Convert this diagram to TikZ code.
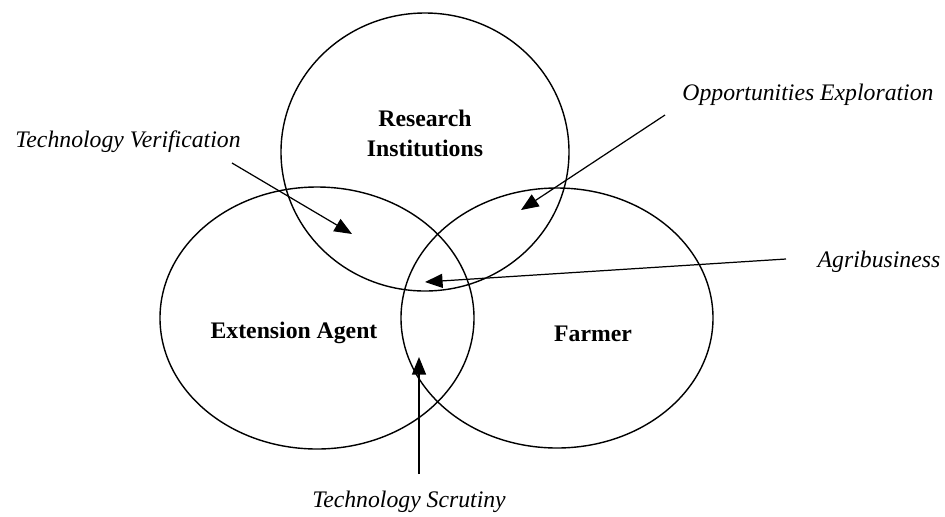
\documentclass[tikz,border=0pt]{standalone}
\usepackage{fontspec}
\setmainfont{Liberation Serif}
\usepackage{tikz}
\usetikzlibrary{arrows.meta}

\tikzset{
  set/.style={draw=black, line width=0.8pt},
  setlabel/.style={font=\fontsize{13.5}{17}\selectfont\bfseries, align=center},
  linklabel/.style={font=\fontsize{13.5}{17}\selectfont\itshape},
  link/.style={-{Triangle[length=10pt,width=8pt]}, line width=0.7pt}
}

\begin{document}
\begin{tikzpicture}
        \useasboundingbox (0,0) rectangle (18.9,-10.32);
        % The three overlapping sets
        \draw[set] (8.50,-3.04) ellipse(2.88 and 2.78);
        \draw[set] (6.34,-6.36) ellipse(3.14 and 2.62);
        \draw[set] (11.14,-6.36) ellipse(3.12 and 2.60);
        % Set names
        \node[setlabel] (research) at (8.50,-2.66) {Research\\Institutions};
        \node[setlabel] (extension) at (5.88,-6.66) {Extension Agent};
        \node[setlabel] (farmer) at (11.86,-6.68) {Farmer};
        % Overlap labels
        \node[linklabel] (verification) at (2.56,-2.84) {Technology Verification};
        \node[linklabel] (exploration) at (16.16,-1.90) {Opportunities Exploration};
        \node[linklabel] (agribusiness) at (17.58,-5.24) {Agribusiness};
        \node[linklabel] (scrutiny) at (8.18,-10.04) {Technology Scrutiny};
        % Arrow ends
        \coordinate (verifStart) at (4.64,-3.26);
        \coordinate (verifTip) at (7.04,-4.68);
        \coordinate (explStart) at (13.30,-2.30);
        \coordinate (explTip) at (10.42,-4.20);
        \coordinate (agriStart) at (15.72,-5.18);
        \coordinate (agriTip) at (8.50,-5.64);
        \coordinate (scrutStart) at (8.38,-9.48);
        \coordinate (scrutTip) at (8.38,-7.14);
        % Pointers into the overlaps
        \draw[link] (verifStart) -- (verifTip);
        \draw[link] (explStart) -- (explTip);
        \draw[link] (agriStart) -- (agriTip);
        \draw[link] (scrutStart) -- (scrutTip);
      \end{tikzpicture}
\end{document}
